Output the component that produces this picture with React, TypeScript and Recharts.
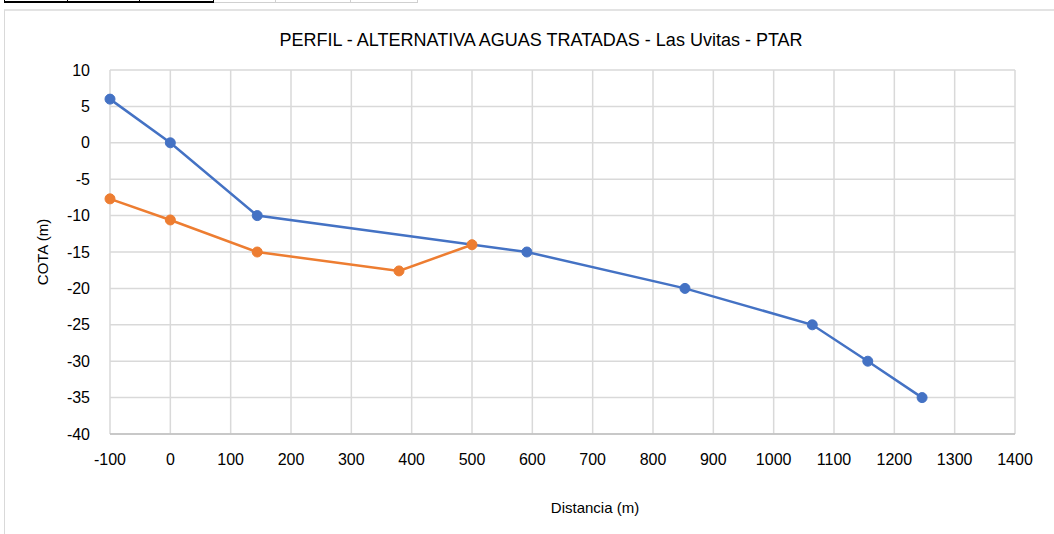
import { CartesianGrid, Line, LineChart, XAxis, YAxis } from 'recharts';

const blueDist = [-100, 0, 144, 591, 853, 1064, 1156, 1246];
const blueCota = [6, 0, -10, -15, -20, -25, -30, -35];
const orangeDist = [-100, 0, 144, 379, 500];
const orangeCota = [-7.7, -10.6, -15, -17.6, -14];
const xTicks = [-100, 0, 100, 200, 300, 400, 500, 600, 700, 800, 900, 1000, 1100, 1200, 1300, 1400];
const yTicks = [-40, -35, -30, -25, -20, -15, -10, -5, 0, 5, 10];

const blueData = blueDist.map((x, i) => ({ x, y: blueCota[i] }));
const orangeData = orangeDist.map((x, i) => ({ x, y: orangeCota[i] }));

const FONT = '"Liberation Sans", Arial, sans-serif';
const tickStyle = { fontSize: 16, fill: '#000', fontFamily: FONT };

function CellBorders() {
  // spreadsheet cell borders peeking above the chart
  const black = [4, 67, 139, 213];
  const gray = [275, 350, 417];
  return (
    <>
      <div style={{ position: 'absolute', left: 4, top: 1, width: 209, height: 2, background: '#000' }} />
      <div style={{ position: 'absolute', left: 213, top: 2, width: 204, height: 1, background: '#d0d0d0' }} />
      {black.map((x) => (
        <div key={x} style={{ position: 'absolute', left: x, top: 0, width: 1, height: 3, background: '#000' }} />
      ))}
      {gray.map((x) => (
        <div key={x} style={{ position: 'absolute', left: x, top: 0, width: 1, height: 3, background: '#d0d0d0' }} />
      ))}
    </>
  );
}

export default function App() {
  return (
    <div style={{ position: 'absolute', left: 0, top: 0, width: 1054, height: 534, background: '#fff', overflow: 'hidden' }}>
      <CellBorders />
      <div
        style={{
          position: 'absolute',
          left: 4,
          top: 9,
          width: 1060,
          height: 540,
          borderTop: '2px solid #e3e3e3',
          borderLeft: '1px solid #d9d9d9'
        }}
      />
      <div
        style={{
          position: 'absolute',
          left: 0,
          top: 30,
          width: 1082,
          textAlign: 'center',
          fontFamily: FONT,
          fontSize: 18,
          color: '#000'
        }}
      >
        PERFIL - ALTERNATIVA AGUAS TRATADAS - Las Uvitas - PTAR
      </div>
      <div
        style={{
          position: 'absolute',
          left: 42,
          top: 252,
          transform: 'translate(-50%, -50%) rotate(-90deg)',
          fontFamily: FONT,
          fontSize: 15,
          whiteSpace: 'nowrap',
          color: '#000'
        }}
      >
        COTA (m)
      </div>
      <div
        style={{
          position: 'absolute',
          left: 0,
          top: 499,
          width: 1190,
          textAlign: 'center',
          fontFamily: FONT,
          fontSize: 15,
          color: '#000'
        }}
      >
        Distancia (m)
      </div>
      <div style={{ position: 'absolute', left: 0, top: 0 }}>
        <LineChart width={1054} height={534} margin={{ top: 70, right: 39, bottom: 70, left: 50 }}>
          <CartesianGrid stroke="#d9d9d9" strokeWidth={1.5} />
          <XAxis
            type="number"
            dataKey="x"
            height={30}
            domain={[-100, 1400]}
            ticks={xTicks}
            interval={0}
            tickLine={false}
            tickSize={0}
            tickMargin={20}
            axisLine={{ stroke: '#bfbfbf', strokeWidth: 1.5 }}
            tick={tickStyle}
          />
          <YAxis
            type="number"
            dataKey="y"
            width={60}
            domain={[-40, 10]}
            ticks={yTicks}
            interval={0}
            tickLine={false}
            tickSize={0}
            tickMargin={20}
            axisLine={false}
            tick={tickStyle}
          />
          <Line
            data={blueData}
            dataKey="y"
            type="linear"
            stroke="#4472c4"
            strokeWidth={2.5}
            dot={{ r: 5, fill: '#4472c4', stroke: '#4472c4', strokeWidth: 1 }}
            isAnimationActive={false}
          />
          <Line
            data={orangeData}
            dataKey="y"
            type="linear"
            stroke="#ed7d31"
            strokeWidth={2.5}
            dot={{ r: 5, fill: '#ed7d31', stroke: '#ed7d31', strokeWidth: 1 }}
            isAnimationActive={false}
          />
        </LineChart>
      </div>
    </div>
  );
}
